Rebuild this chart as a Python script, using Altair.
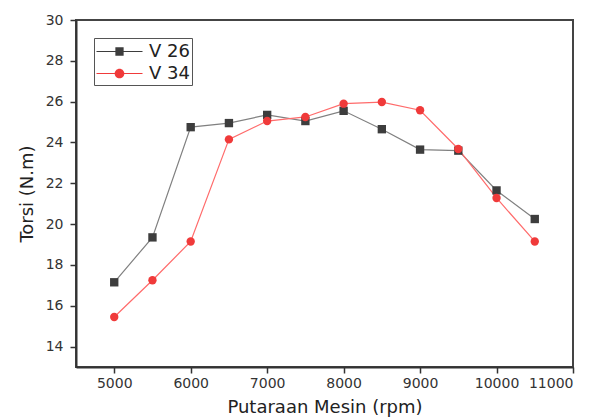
import altair as alt
import pandas as pd

rpm = [5000, 5500, 6000, 6500, 7000, 7500, 8000, 8500, 9000, 9500, 10000, 10500]
v26 = [17.15, 19.35, 24.75, 24.95, 25.35, 25.05, 25.55, 24.65, 23.65, 23.6, 21.65, 20.25]
v34 = [15.45, 17.25, 19.15, 24.15, 25.05, 25.25, 25.9, 25.98, 25.58, 23.68, 21.28, 19.15]
series = ["V 26", "V 34"]
x_range = [4500, 11000]
y_range = [13, 30]
x_major = list(range(5000, 11001, 1000))
y_major = list(range(14, 31, 2))

df = pd.DataFrame(
    [{"rpm": r, "torsi": t, "seri": series[0]} for r, t in zip(rpm, v26)]
    + [{"rpm": r, "torsi": t, "seri": series[1]} for r, t in zip(rpm, v34)]
)

FONT = "DejaVu Sans"
x_scale = alt.Scale(domain=x_range, nice=False, zero=False)
y_scale = alt.Scale(domain=y_range, nice=False, zero=False)

lines = alt.Chart(df).mark_line(strokeWidth=1.2).encode(
    x=alt.X("rpm:Q", scale=x_scale, axis=alt.Axis(
        title="Putaraan Mesin (rpm)", values=x_major, format="d",
        tickSize=6, labelPadding=3, titlePadding=8, grid=False)),
    y=alt.Y("torsi:Q", scale=y_scale, axis=alt.Axis(
        title="Torsi (N.m)", values=y_major,
        tickSize=6, labelPadding=7, titlePadding=9, grid=False)),
    stroke=alt.Stroke("seri:N", scale=alt.Scale(domain=series, range=["#808080", "#ff6b6b"]), legend=None),
    detail="seri:N",
)

points = alt.Chart(df).mark_point(filled=True, opacity=1, size=70).encode(
    x="rpm:Q",
    y="torsi:Q",
    fill=alt.Fill("seri:N", scale=alt.Scale(domain=series, range=["#3d3d3d", "#f03a3a"]), legend=None),
    shape=alt.Shape("seri:N", scale=alt.Scale(domain=series, range=["square", "circle"]), legend=None),
)

sq = "M-2,-0.05H2V0.05H-2ZM-0.36,-0.36H0.36V0.36H-0.36Z"
ci = "M-2,-0.05H2V0.05H-2ZM0.42,0A0.42,0.42 0 1,1 -0.42,0A0.42,0.42 0 1,1 0.42,0Z"

leg = alt.Legend(
    title=None,
    orient="none",
    legendX=18,
    legendY=18,
    strokeColor="#555555",
    padding=2,
    symbolSize=529,
    symbolOffset=12,
    symbolStrokeWidth=0,
    symbolOpacity=1,
    labelFontSize=18,
    labelFont=FONT,
    labelColor="#222222",
    labelOffset=18,
    rowPadding=1,
    cornerRadius=0,
)

legend_layer = alt.Chart(df).mark_point(filled=True, size=0, opacity=0).encode(
    x="rpm:Q",
    y="torsi:Q",
    fill=alt.Fill("seri:N", scale=alt.Scale(domain=series, range=["#3d3d3d", "#f03a3a"]), legend=leg),
    shape=alt.Shape("seri:N", scale=alt.Scale(domain=series, range=[sq, ci]), legend=leg),
)

chart = (
    alt.layer(lines, points, legend_layer)
    .resolve_scale(fill="independent", shape="independent")
    .properties(
        width=497,
        height=347,
        autosize=alt.AutoSizeParams(type="none"),
        padding={"left": 68, "top": 12, "right": 27, "bottom": 50},
        background="white",
    )
    .configure_view(stroke="#444444", strokeWidth=2)
    .configure_axis(
        domainColor="#333333",
        domainWidth=2,
        tickColor="#333333",
        tickWidth=1.5,
        labelFont=FONT,
        labelFontSize=14,
        labelColor="#333333",
        titleFont=FONT,
        titleFontSize=18,
        titleFontWeight="normal",
        titleColor="#222222",
    )
)

chart.save("out.html", embed_options={"renderer": "svg", "actions": False})
